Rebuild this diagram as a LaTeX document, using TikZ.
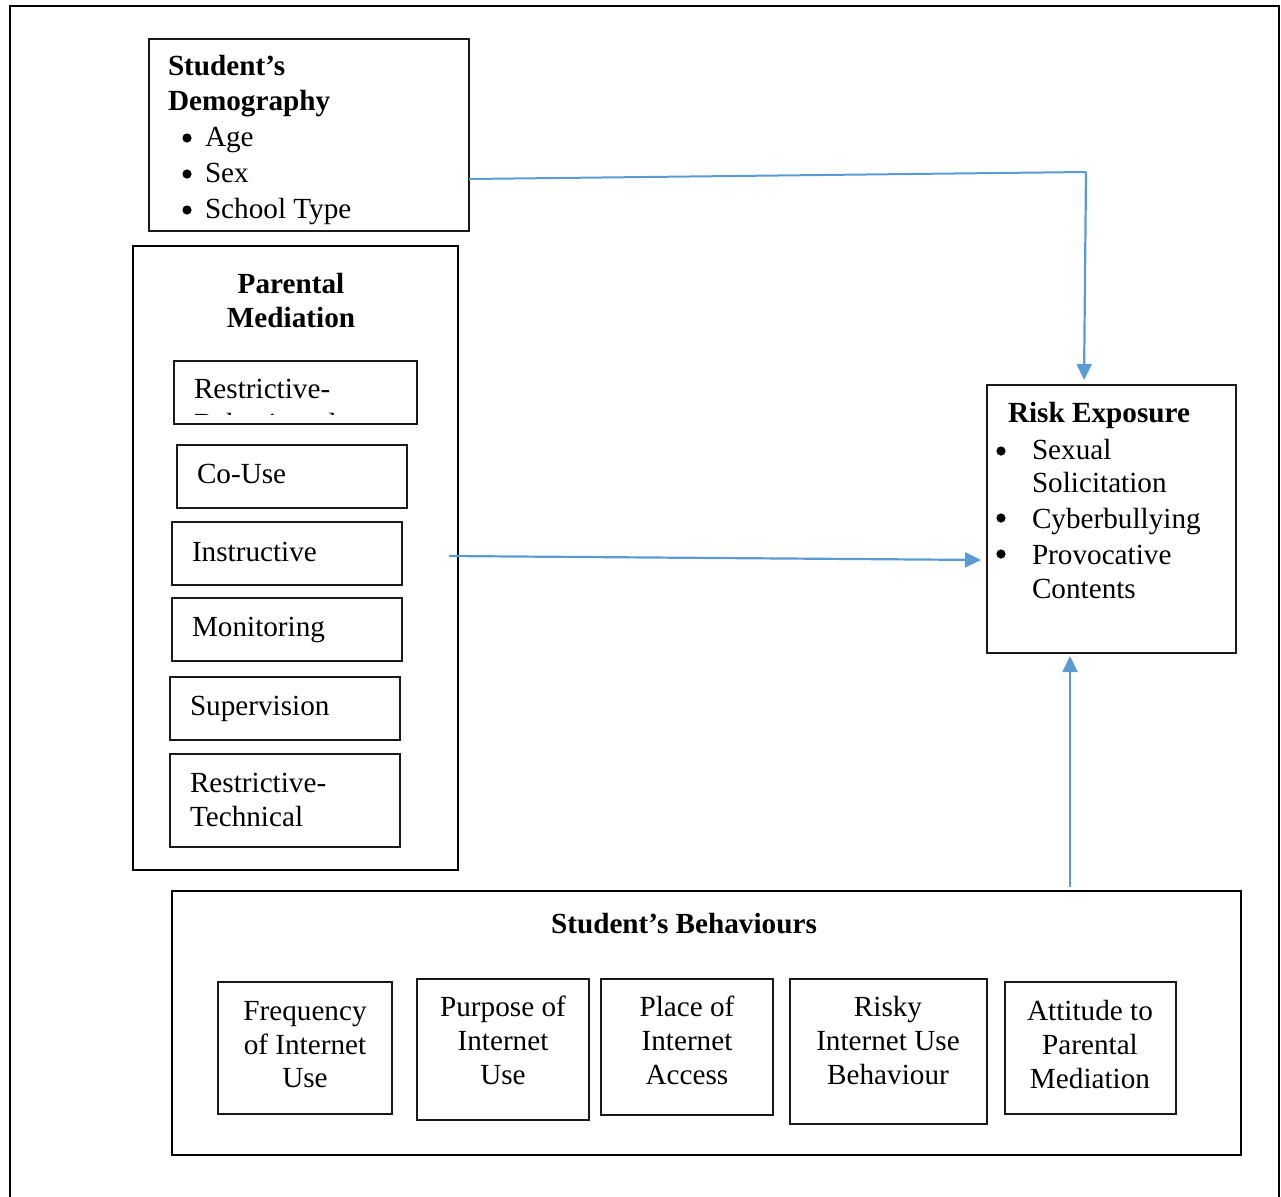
\documentclass[tikz,border=0pt]{standalone}
\usepackage{fontspec}
\setmainfont{Liberation Serif}
\usetikzlibrary{arrows.meta,calc}
\definecolor{arrowblue}{HTML}{5B9BD5}
\definecolor{boxline}{HTML}{1A1A1A}
\begin{document}
\begin{tikzpicture}[x=0.5pt,y=-0.5pt,
  txt/.style={inner sep=0pt, outer sep=0pt, font=\fontsize{14.6}{18}\selectfont},
  lt/.style={txt, anchor=base west},
  ct/.style={txt, anchor=base},
  bul/.style={circle, fill=black, inner sep=0pt, minimum size=4.6pt},
  thinbox/.style={draw=boxline, line width=0.6pt, inner sep=0pt, outer sep=0pt, anchor=north west},
  thickbox/.style={draw=black, line width=1.25pt, inner sep=0pt, outer sep=0pt, anchor=north west},
  arr/.style={draw=arrowblue, line width=1.1pt, -{Triangle[length=8pt,width=7.5pt]}},
  lnk/.style={draw=arrowblue, line width=1pt}]
\useasboundingbox (0,0) rectangle (1281,1196);
% outer frame
\draw[line width=1pt] (10,1200) -- (10,6) -- (1279,6) -- (1279,1200);

% Student's Demography
\node[thinbox, minimum width=160pt, minimum height=96pt] (demo) at (149,39) {};
\node[lt] (demoT1) at (168,75) {\textbf{Student’s}};
\node[lt] (demoT2) at (168,110) {\textbf{Demography}};
\node[bul] (demoB1) at (187,138) {};
\node[bul] (demoB2) at (187,174) {};
\node[bul] (demoB3) at (187,210) {};
\node[lt] (demo1) at (205,146) {Age};
\node[lt] (demo2) at (205,182) {Sex};
\node[lt] (demo3) at (205,218) {School Type};

% Parental Mediation
\node[thickbox, minimum width=162.5pt, minimum height=312pt] (par) at (133,246) {};
\node[ct] (parT1) at (291,293) {\textbf{Parental}};
\node[ct] (parT2) at (291,327) {\textbf{Mediation}};

\node[thinbox, minimum width=121.5pt, minimum height=31.5pt] (rb) at (174,361) {};
\begin{scope}
  \clip (174,361) rectangle (417,414);
  \node[lt] (rb1) at (194,398) {Restrictive-};
  \node[lt] (rb2) at (194,433) {Behavioural};
\end{scope}
\node[thinbox, minimum width=115pt, minimum height=31.5pt] (cu) at (177,445) {};
\node[lt] (cuT) at (197,483) {Co-Use};
\node[thinbox, minimum width=115pt, minimum height=31.5pt] (ins) at (172,522) {};
\node[lt] (insT) at (192,561) {Instructive};
\node[thinbox, minimum width=115pt, minimum height=31.5pt] (mon) at (172,598) {};
\node[lt] (monT) at (192,636) {Monitoring};
\node[thinbox, minimum width=115pt, minimum height=31.5pt] (sup) at (170,677) {};
\node[lt] (supT) at (190,715) {Supervision};
\node[thinbox, minimum width=115pt, minimum height=46.5pt] (rt) at (170,754) {};
\node[lt] (rt1) at (190,792) {Restrictive-};
\node[lt] (rt2) at (190,826) {Technical};

% Risk Exposure
\node[thinbox, minimum width=124.5pt, minimum height=134pt] (risk) at (987,385) {};
\node[lt] (riskT) at (1008,422) {\textbf{Risk Exposure}};
\node[bul] (rB1) at (1001,451) {};
\node[bul] (rB2) at (1001,518) {};
\node[bul] (rB3) at (1001,554) {};
\node[lt] (r1) at (1032,459) {Sexual};
\node[lt] (r1b) at (1032,492) {Solicitation};
\node[lt] (r2) at (1032,528) {Cyberbullying};
\node[lt] (r3) at (1032,564) {Provocative};
\node[lt] (r3b) at (1032,598) {Contents};

% Student's Behaviours
\node[thickbox, minimum width=534.5pt, minimum height=132pt] (beh) at (172,891) {};
\node[ct] (behT) at (684,933) {\textbf{Student’s Behaviours}};

\node[thinbox, minimum width=87pt, minimum height=66pt] (f) at (218,982) {};
\node[ct] (f1) at (305,1020) {Frequency};
\node[ct] (f2) at (305,1054) {of Internet};
\node[ct] (f3) at (305,1087) {Use};
\node[thinbox, minimum width=86pt, minimum height=70.5pt] (p) at (417,979) {};
\node[ct] (p1) at (503,1016) {Purpose of};
\node[ct] (p2) at (503,1050) {Internet};
\node[ct] (p3) at (503,1084) {Use};
\node[thinbox, minimum width=86pt, minimum height=68pt] (pl) at (601,979) {};
\node[ct] (pl1) at (687,1016) {Place of};
\node[ct] (pl2) at (687,1050) {Internet};
\node[ct] (pl3) at (687,1084) {Access};
\node[thinbox, minimum width=98.5pt, minimum height=72.5pt] (rk) at (790,979) {};
\node[ct] (rk1) at (888,1016) {Risky};
\node[ct] (rk2) at (888,1050) {Internet Use};
\node[ct] (rk3) at (888,1084) {Behaviour};
\node[thinbox, minimum width=85.5pt, minimum height=66pt] (at) at (1005,982) {};
\node[ct] (at1) at (1090,1020) {Attitude to};
\node[ct] (at2) at (1090,1054) {Parental};
\node[ct] (at3) at (1090,1088) {Mediation};

% connectors
\coordinate (d1) at (469,179);
\coordinate (d2) at (1086,172);
\coordinate (d3) at (1084,385);
\draw[lnk] (d1) -- (d2);
\draw[arr, shorten >=2.5pt] (d2) -- (d3);
\coordinate (pa) at (449,556);
\coordinate (pb) at (987,560);
\draw[arr, shorten >=3pt] (pa) -- (pb);
\coordinate (ba) at (1070,887);
\coordinate (bb) at (1070,653);
\draw[arr, shorten >=1.5pt] (ba) -- (bb);
\end{tikzpicture}
\end{document}
